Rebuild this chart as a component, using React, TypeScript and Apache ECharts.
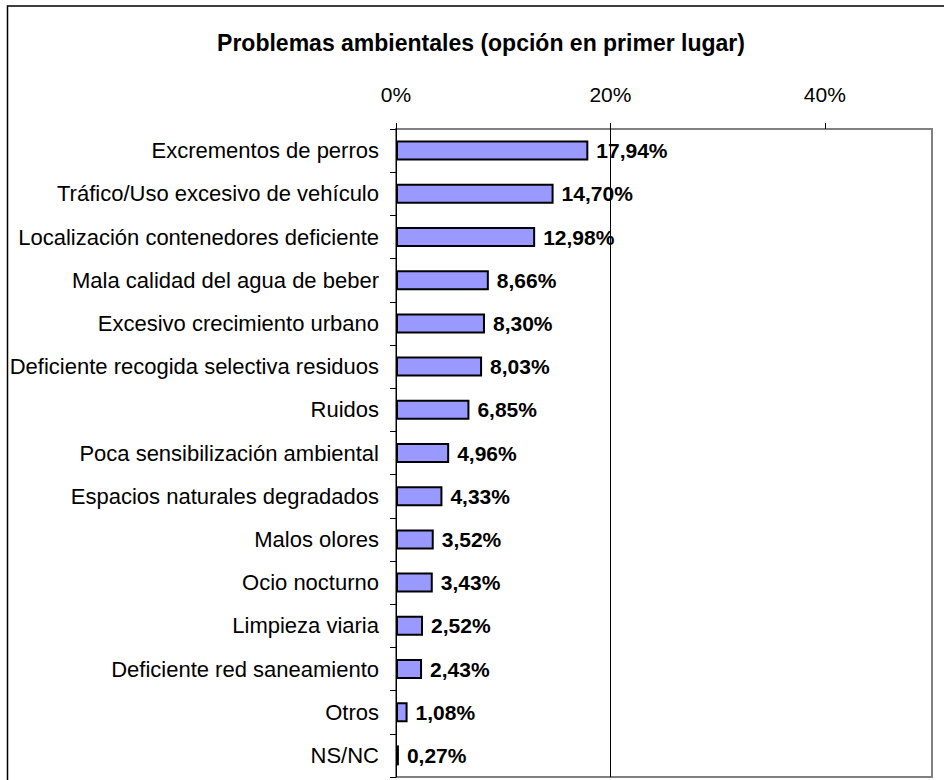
import React, { useEffect, useRef } from "react";
import * as echarts from "echarts";

const titleText = "Problemas ambientales (opción en primer lugar)";
const categories = [
  "Excrementos de perros",
  "Tráfico/Uso excesivo de vehículo",
  "Localización contenedores deficiente",
  "Mala calidad del agua de beber",
  "Excesivo crecimiento urbano",
  "Deficiente recogida selectiva residuos",
  "Ruidos",
  "Poca sensibilización ambiental",
  "Espacios naturales degradados",
  "Malos olores",
  "Ocio nocturno",
  "Limpieza viaria",
  "Deficiente red saneamiento",
  "Otros",
  "NS/NC",
];
const values = [17.94, 14.7, 12.98, 8.66, 8.3, 8.03, 6.85, 4.96, 4.33, 3.52, 3.43, 2.52, 2.43, 1.08, 0.27];
const tickValues = [0, 20, 40];

const FONT = "'Liberation Sans', Arial, sans-serif";

export default function App() {
  const ref = useRef<HTMLDivElement>(null);
  useEffect(() => {
    if (!ref.current) return;
    const chart = echarts.init(ref.current, undefined, { renderer: "svg" });
    chart.setOption({
      animation: false,
      backgroundColor: "#fff",
      textStyle: { fontFamily: FONT },
      grid: {
        left: 396,
        right: 12,
        top: 129,
        bottom: 3,
        show: true,
        borderColor: "#808080",
        borderWidth: 2,
        backgroundColor: "transparent",
      },
      graphic: [
        {
          type: "rect",
          shape: { x: 7.5, y: 6, width: 1000, height: 1000 },
          style: { fill: "none", stroke: "#000", lineWidth: 1.5 },
          silent: true,
          z: 100,
        },
        {
          type: "text",
          x: 481,
          y: 42.5,
          style: {
            text: titleText,
            fontSize: 23,
            fontWeight: "bold",
            fontFamily: FONT,
            fill: "#000",
            textAlign: "center",
            textVerticalAlign: "middle",
          },
        },
      ],
      xAxis: {
        type: "value",
        position: "top",
        min: 0,
        max: 50,
        interval: 20,
        axisLine: { show: false },
        axisTick: {
          show: true,
          length: 6,
          lineStyle: { color: "#000", width: 1 },
          customValues: tickValues,
        },
        axisLabel: {
          fontSize: 21,
          color: "#000",
          fontFamily: FONT,
          margin: 24,
          customValues: tickValues,
          formatter: (v: number) => (tickValues.indexOf(v) >= 0 ? v + "%" : ""),
        },
        splitLine: {
          show: true,
          showMinLine: false,
          showMaxLine: false,
          lineStyle: { color: "#000", width: 1 },
        },
      },
      yAxis: {
        type: "category",
        inverse: true,
        data: categories,
        axisLine: { show: true, lineStyle: { color: "#000", width: 1 } },
        axisTick: { show: true, length: 6, lineStyle: { color: "#000", width: 1 } },
        axisLabel: { fontSize: 22, color: "#000", fontFamily: FONT, margin: 17 },
        splitLine: { show: false },
      },
      series: [
        {
          type: "bar",
          data: values,
          barWidth: 20,
          itemStyle: { color: "#9999FF", borderColor: "#000", borderWidth: 2 },
          label: {
            show: true,
            position: "right",
            distance: 8,
            fontSize: 21,
            fontWeight: "bold",
            color: "#000",
            fontFamily: FONT,
            formatter: (p: any) => p.value.toFixed(2).replace(".", ",") + "%",
          },
        },
      ],
    });
    return () => chart.dispose();
  }, []);
  return (
    <div
      ref={ref}
      style={{ position: "fixed", left: 0, top: 0, width: 944, height: 780, background: "#fff" }}
    />
  );
}
